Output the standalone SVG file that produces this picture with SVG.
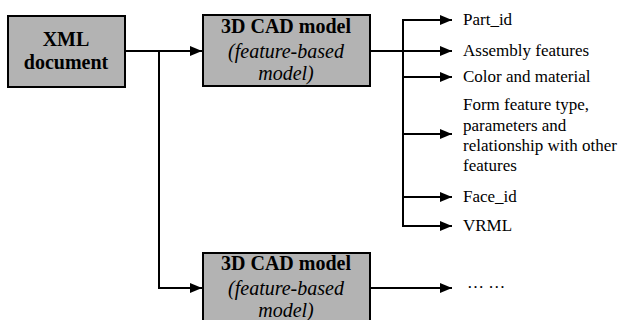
<svg xmlns="http://www.w3.org/2000/svg" width="619" height="320" viewBox="0 0 619 320" font-family="'Liberation Serif', 'Times New Roman', Times, serif">
<style>
.box{fill:#b3b3b3;stroke:#000;stroke-width:2}
.b{font-weight:bold;font-size:20px;text-anchor:middle}
.i{font-style:italic;font-size:20px;text-anchor:middle}
.l{font-size:17px}
.c{fill:none;stroke:#000;stroke-width:2}
</style>
<defs>
<marker id="ah" viewBox="0 0 12 10" refX="12" refY="5" markerWidth="12" markerHeight="10" markerUnits="userSpaceOnUse" orient="auto">
<path d="M0,0 L12,5 L0,10 z" fill="#000"/>
</marker>
</defs>
<rect width="619" height="320" fill="#fff"/>
<g id="connectors">
<path class="c" d="M125,51 H202" marker-end="url(#ah)"/>
<path class="c" d="M159,51 V288 H202" marker-end="url(#ah)"/>
<path class="c" d="M370,51 H403"/>
<path class="c" d="M452,20 H403 V226 H452" marker-end="url(#ah)"/>
<path class="c" d="M403,20 H452" marker-end="url(#ah)"/>
<path class="c" d="M403,51 H452" marker-end="url(#ah)"/>
<path class="c" d="M403,77 H452" marker-end="url(#ah)"/>
<path class="c" d="M403,134 H452" marker-end="url(#ah)"/>
<path class="c" d="M403,197 H452" marker-end="url(#ah)"/>
<path class="c" d="M370,288 H452" marker-end="url(#ah)"/>
</g>
<g id="xml">
<rect class="box" x="8" y="16" width="117" height="71"/>
<text class="b" x="66" y="46" font-family="Liberation Serif, serif">XML</text>
<text class="b" x="66" y="69" font-family="Liberation Serif, serif">document</text>
</g>
<g id="cad1" font-family="Liberation Serif, serif">
<rect class="box" x="203" y="15" width="167" height="71"/>
<text class="b" x="286" y="33">3D CAD model</text>
<text class="i" x="286" y="58">(feature-based</text>
<text class="i" x="286" y="80">model)</text>
</g>
<g id="cad2" font-family="Liberation Serif, serif">
<rect class="box" x="203" y="253" width="167" height="70"/>
<text class="b" x="286" y="270">3D CAD model</text>
<text class="i" x="286" y="295">(feature-based</text>
<text class="i" x="286" y="317">model)</text>
</g>
<g id="part_id" font-family="Liberation Serif, serif"><text class="l" x="463" y="25">Part_id</text></g>
<g id="assembly" font-family="Liberation Serif, serif"><text class="l" x="463" y="56">Assembly features</text></g>
<g id="color" font-family="Liberation Serif, serif"><text class="l" x="463" y="82">Color and material</text></g>
<g id="form" font-family="Liberation Serif, serif">
<text class="l" x="463" y="110">Form feature type,</text>
<text class="l" x="463" y="131">parameters and</text>
<text class="l" x="463" y="151">relationship with other</text>
<text class="l" x="463" y="171">features</text>
</g>
<g id="face_id" font-family="Liberation Serif, serif"><text class="l" x="463" y="202">Face_id</text></g>
<g id="vrml" font-family="Liberation Serif, serif"><text class="l" x="463" y="231">VRML</text></g>
<g id="more" font-family="Liberation Serif, serif"><text class="l" x="467" y="288">… …</text></g>
</svg>
